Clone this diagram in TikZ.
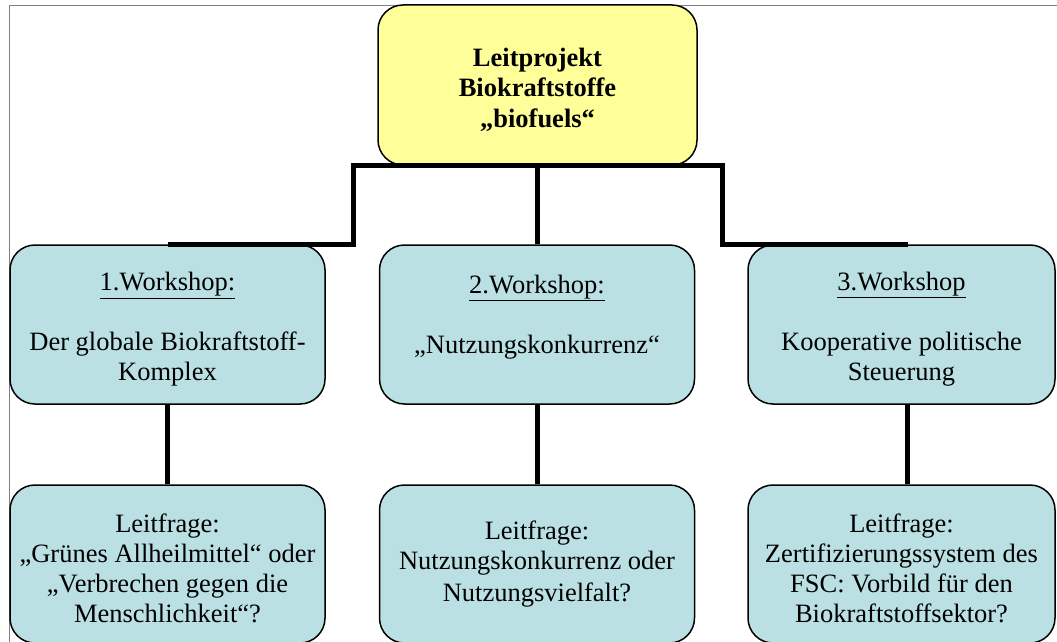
\documentclass[tikz,border=0pt]{standalone}
\usepackage{fontspec}
\setmainfont{Liberation Serif}
\usetikzlibrary{positioning}
\definecolor{bfyellow}{HTML}{FFFF99}
\definecolor{bfblue}{HTML}{BBE0E3}
\definecolor{bfgray}{HTML}{808080}
\newcommand{\bfstrut}{\rule{0pt}{28pt}}

\begin{document}
\begin{tikzpicture}[
  x=1pt, y=-1pt,
  every node/.style={font=\rmfamily\fontsize{26.5}{30}\selectfont},
  boxbase/.style={rectangle, rounded corners=25pt, draw=black, line width=1.5pt, align=center},
  topnode/.style={boxbase, fill=bfyellow, minimum width=319pt, minimum height=160pt, font=\rmfamily\fontsize{26.5}{30.5}\selectfont\bfseries},
  wsnode/.style={boxbase, fill=bfblue, minimum width=315pt, minimum height=159pt},
  qnode/.style={wsnode, minimum height=158pt},
  conn/.style={line width=5pt, black},
]
\useasboundingbox (0,0) rectangle (1057,642);
\clip (0,0) rectangle (1057,642);

% frame
\draw[bfgray, line width=1.5pt] (9.5,700) -- (9.5,5.5) -- (1100,5.5);

% Top: project
\node[topnode] (top) at (537.5,85) {\bfstrut Leitprojekt\\Biokraftstoffe\\„biofuels“};

% Middle row: workshops
\node[wsnode] (w1) at (167.5,324.5) {\bfstrut\underline{1.Workshop:}\\[30pt]Der globale Biokraftstoff-\\Komplex};
\node[wsnode] (w2) at (537,324.5) {\bfstrut\underline{2.Workshop:}\\[30pt]„Nutzungskonkurrenz“\\ \mbox{}};
\node[wsnode, minimum width=307pt] (w3) at (901.5,324.5) {\bfstrut\underline{3.Workshop}\\[30pt]Kooperative politische\\Steuerung};

% Bottom row: questions
\node[qnode] (q1) at (167.5,564) {\bfstrut Leitfrage:\\„Grünes Allheilmittel“ oder\\„Verbrechen gegen die\\Menschlichkeit“?};
\node[qnode] (q2) at (537,564) {Leitfrage:\\Nutzungskonkurrenz oder\\[2pt]Nutzungsvielfalt?};
\node[qnode, minimum width=307pt] (q3) at (901.5,564) {\bfstrut Leitfrage:\\Zertifizierungssystem des\\FSC: Vorbild für den\\Biokraftstoffsektor?};

% connectors
\coordinate (jl) at (353,165.5);
\coordinate (jr) at (722.5,165.5);
\draw[conn] (w1.north) -| (jl) -- (jr) |- ([xshift=6pt]w3.north);
\draw[conn] (top.south) -- (top.south |- w2.north);
\draw[conn] (w1.south) -- (q1.north);
\draw[conn] (w2.south) -- (q2.north);
\draw[conn] ([xshift=6pt]w3.south) -- ([xshift=6pt]q3.north);

\end{tikzpicture}
\end{document}
